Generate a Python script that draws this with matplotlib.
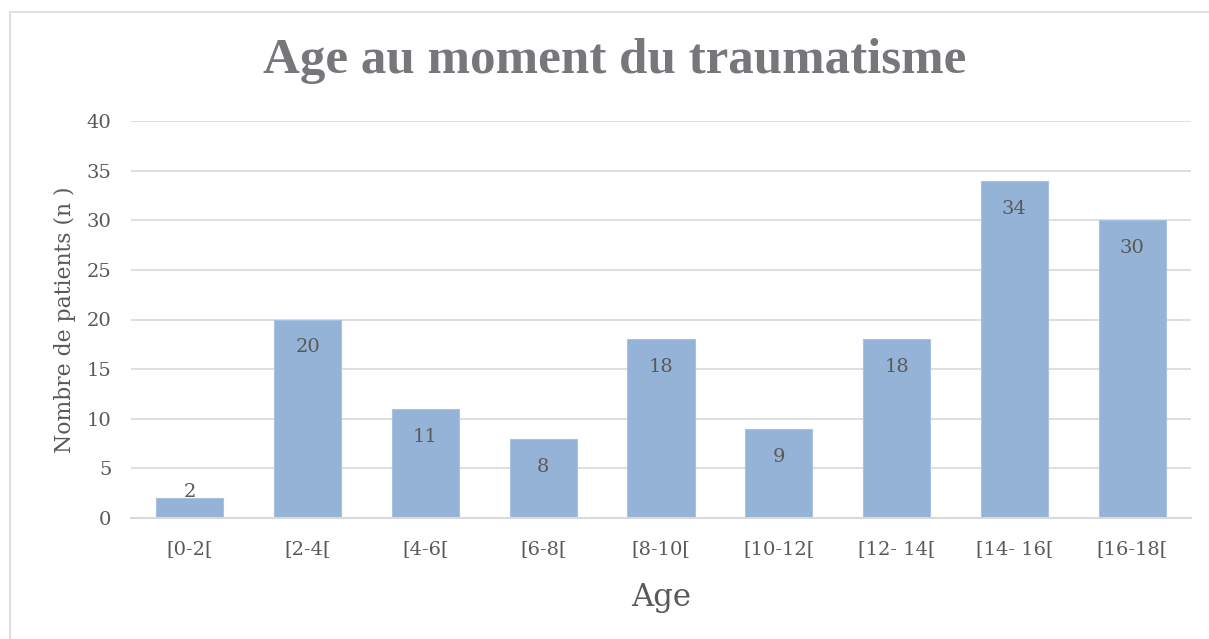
import matplotlib
matplotlib.use("Agg")
import matplotlib.pyplot as plt
from matplotlib.patches import Rectangle
import matplotlib.transforms as mtransforms

categories = ["[0-2[", "[2-4[", "[4-6[", "[6-8[", "[8-10[", "[10-12[", "[12- 14[", "[14- 16[", "[16-18["]
values = [2, 20, 11, 8, 18, 9, 18, 34, 30]
yticks = [0, 5, 10, 15, 20, 25, 30, 35, 40]

W, H = 1209, 639
fig = plt.figure(figsize=(W / 100, H / 100), dpi=100)
fig.patch.set_facecolor("white")

plt.rcParams['font.family'] = ['DejaVu Serif', 'Liberation Serif']

# outer border
fig.add_artist(Rectangle((9.5 / W, -0.01), 1.2, (H - 11.5) / H + 0.01,
                         transform=fig.transFigure, fill=False,
                         edgecolor="#D9D9D9", linewidth=1.2))

ax = fig.add_axes([131 / W, 1 - 518 / H, (1191 - 131) / W, (518 - 121) / H])
x = list(range(len(categories)))
bars = ax.bar(x, values, width=0.57, color="#95B3D7", edgecolor="#A9C2E0",
              linewidth=0.8, zorder=2)
ax.set_xlim(-0.5, len(categories) - 0.5)
ax.set_ylim(0, 40)
ax.set_yticks(yticks)
ax.set_xticks(x)
ax.set_xticklabels(categories)
ax.grid(axis="y", color="#D9D9D9", linewidth=1.2, zorder=0)
for s in ["top", "right", "left"]:
    ax.spines[s].set_visible(False)
ax.spines["bottom"].set_color("#D9D9D9")
ax.spines["bottom"].set_linewidth(1.5)
TICK_FS = 14
ax.tick_params(axis="both", length=0, colors="#595959", labelsize=TICK_FS)
ax.tick_params(axis="x", pad=16)
ax.tick_params(axis="y", pad=14)

for xi, v in zip(x, values):
    if v >= 4:
        off = mtransforms.offset_copy(ax.transData, fig=fig, x=0, y=-28 * 0.72, units="points")
    else:
        off = mtransforms.offset_copy(ax.transData, fig=fig, x=0, y=6 * 0.72, units="points")
    ax.text(xi, v, str(v), transform=off, ha="center", va="center",
            fontsize=TICK_FS, color="#595959", zorder=3)

yl = ax.set_ylabel("Nombre de patients (n )", fontsize=15, color="#595959", labelpad=8)
xl = ax.set_xlabel("Age", fontsize=22, color="#595959", labelpad=17)

title = fig.text(615 / W, 1 - 61 / H, "Age au moment du traumatisme", ha="center", va="center",
                 fontsize=36, fontweight="bold", color="#76777A",
                 family=["Liberation Serif", "DejaVu Serif"])

# fit text extents to the reference's sizes
fig.canvas.draw()
r = fig.canvas.get_renderer()
tw = title.get_window_extent(r).width
title.set_fontsize(36 * 704 / tw)
yh = yl.get_window_extent(r).height
yl.set_fontsize(15 * 267 / yh)
xw = xl.get_window_extent(r).width
xl.set_fontsize(22 * 60 / xw)

fig.savefig("out.png", dpi=100, facecolor="white")
